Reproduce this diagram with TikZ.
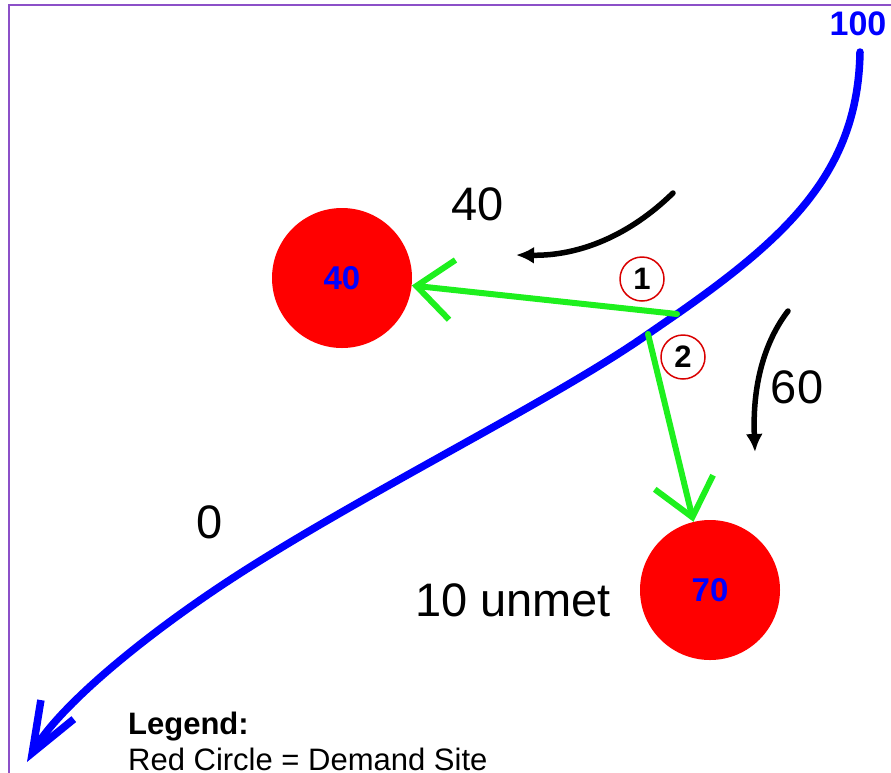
\documentclass[tikz,border=0pt]{standalone}
\usepackage{fontspec}
\setmainfont{Liberation Sans}
\usetikzlibrary{arrows.meta}
\definecolor{frameviolet}{RGB}{140,80,200}
\definecolor{pipegreen}{RGB}{30,240,30}

\begin{document}
\begin{tikzpicture}[x=1pt,y=-1pt,
site/.style={circle,fill=red,minimum size=140pt,inner sep=0pt,text=blue,font=\fontsize{33}{35}\selectfont\bfseries},
amount/.style={font=\fontsize{47}{50}\selectfont},
order/.style={circle,draw=red!85!black,line width=1.5pt,minimum size=44pt,inner sep=0pt,font=\fontsize{31}{33}\selectfont\bfseries},
river/.style={draw=blue,line width=7.5pt,line cap=round,line join=round,-{Straight Barb[length=50pt,width=38pt]}},
withdraw/.style={draw=pipegreen,line width=6pt,line cap=round,-{Straight Barb[length=36pt,width=60pt]}},
flow/.style={line width=5.5pt,line cap=round,-{Latex[length=18pt,width=17pt]}}]
\useasboundingbox (0,0) rectangle (891,772);
\clip (0,0) rectangle (891,772);
\draw[frameviolet,line width=2pt] (9,4.5) rectangle (900,800);
% river and its two off-takes
\node[text=blue,font=\fontsize{34}{36}\selectfont\bfseries] (src) at (858,24) {100};
\coordinate (top) at (860,52);
\coordinate (w1) at (677,314);
\coordinate (w2) at (648,334);
\coordinate (bend) at (250,567);
\coordinate (mouth) at (27,762);
\draw[river] (top) .. controls (858,170) and (790,235) .. (w1) -- (w2)
  .. controls (560,396) and (380,485) .. (bend)
  .. controls (150,630) and (60,705) .. (mouth);
\node[site] (site1) at (342,278) {40};
\node[site] (site2) at (710,590) {70};
\draw[withdraw] (w1) -- (site1);
\draw[withdraw] (w2) -- (site2);
\node[order] (num1) at (642,279) {1};
\node[order] (num2) at (683,357) {2};
% delivered amounts
\coordinate (f1s) at (673,193);
\coordinate (f1e) at (516,255);
\draw[flow] (f1s) .. controls (630,235) and (580,256) .. (f1e);
\coordinate (f2s) at (788,311);
\coordinate (f2e) at (755,452);
\draw[flow] (f2s) .. controls (768,337) and (752,378) .. (f2e);
\node[amount] (q1) at (478,204) {40};
\node[amount] (q2) at (797,387) {60};
\node[amount] (q0) at (210,522) {0};
\node[amount] (unmet) at (513,600) {10 unmet};
% legend
\node[anchor=base west,inner sep=0pt,font=\fontsize{31}{33}\selectfont\bfseries] (leg) at (128,734) {Legend:};
\node[anchor=base west,inner sep=0pt,font=\fontsize{31}{33}\selectfont] (legsite) at (128,770) {Red Circle = Demand Site};
\end{tikzpicture}
\end{document}
